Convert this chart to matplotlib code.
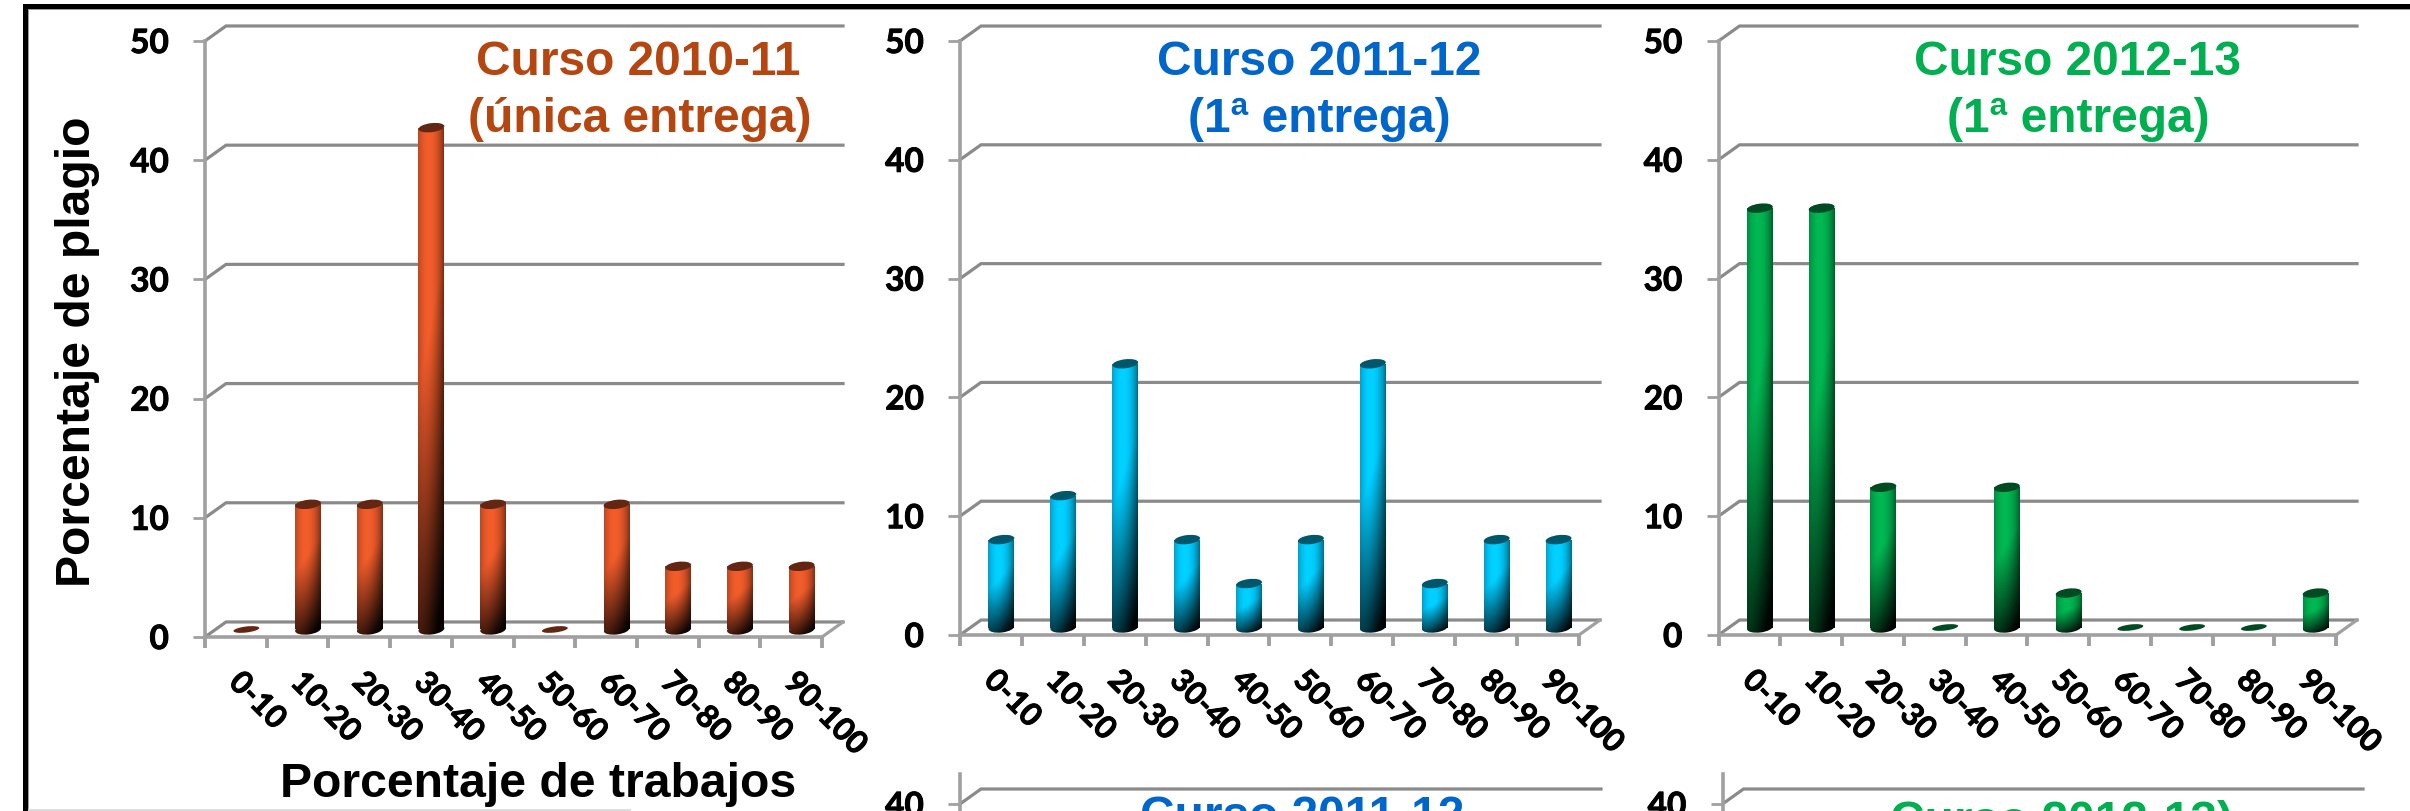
#!/usr/bin/env python3
import matplotlib
matplotlib.use("Agg")
import matplotlib.pyplot as plt
import matplotlib.patheffects as pe
import numpy as np
from matplotlib.colors import to_rgb
from matplotlib.patches import Ellipse, Rectangle
from matplotlib.transforms import ScaledTranslation

W, H = 2410, 811
DPI = 100

categories = ["0-10", "10-20", "20-30", "30-40", "40-50", "50-60", "60-70", "70-80", "80-90", "90-100"]
values_2010 = [0, 10.5, 10.5, 42.1, 10.5, 0, 10.5, 5.3, 5.3, 5.3]
values_2011 = [7.4, 11.1, 22.2, 7.4, 3.7, 7.4, 22.2, 3.7, 7.4, 7.4]
values_2012 = [35.3, 35.3, 11.8, 0, 11.8, 2.9, 0, 0, 0, 2.9]
yticks_top = [0, 10, 20, 30, 40, 50]
yticks_bottom = [40]

GRID = "#8a8a8a"
AXIS = "#a0a0a0"
PX_PER_UNIT = 11.9
DEPTH_X, DEPTH_Y = 21, 15
BAR_W = 26

plt.rcParams["font.family"] = ["Lato", "DejaVu Sans"]
fig = plt.figure(figsize=(W / DPI, H / DPI), dpi=DPI)
heavy = [pe.withStroke(linewidth=0.7, foreground="black")]


def fx(px):
    return px / W


def fy(py):
    return 1 - py / H


def shade_image(color, n=60):
    # cylinder shading: bright left of centre, dark at the right edge and foot
    u = np.linspace(0, 1, 40)
    t = np.linspace(1, 0, n)
    uu, tt = np.meshgrid(u, t)
    across = np.clip(1 - ((uu - 0.42) / 0.66) ** 2, 0, 1) ** 0.8
    along = np.clip((tt + 0.30 * (0.45 - uu) + 0.08) / 0.68, 0, 1)
    s = (0.30 + 0.70 * across) * along ** 0.95 + 0.03
    rgb = np.array(to_rgb(color))
    return np.clip(s[..., None] * rgb, 0, 1)


def panel(x0, x1, y_top, y_zero, ymax, yticks, values=None, color=None):
    ax = fig.add_axes([fx(x0), fy(y_zero), fx(x1 - x0), (y_zero - y_top) / H])
    ax.set_xlim(0, 10)
    ax.set_ylim(0, ymax)
    ax.patch.set_alpha(0)
    slot = (x1 - x0) / 10
    dx = DEPTH_X / slot
    dy = DEPTH_Y / PX_PER_UNIT

    for v in yticks:
        ax.plot([0, dx, 10 + dx], [v, v + dy, v + dy], color=GRID, lw=2.3, clip_on=False,
                solid_joinstyle="miter", zorder=1)
    ax.plot([10, 10 + dx], [0, dy], color=AXIS, lw=2.3, clip_on=False, zorder=1)

    for s in ("top", "right"):
        ax.spines[s].set_visible(False)
    for s in ("left", "bottom"):
        ax.spines[s].set_color(AXIS)
        ax.spines[s].set_linewidth(2.6)
    ax.set_yticks(yticks)
    ax.tick_params(axis="y", length=9, width=2, color=AXIS, pad=17, labelsize=24)
    for lab in ax.get_yticklabels():
        lab.set_fontweight("bold")
        lab.set_path_effects(heavy)

    ax.set_xticks(range(11))
    ax.set_xticklabels([])
    ax.tick_params(axis="x", which="major", length=8, width=2.8, color=AXIS)

    if values is None:
        # second row: the image edge cuts it before its bars and category labels
        return ax

    ax.set_xticks(np.arange(10) + 0.5 + 8 / slot, minor=True)
    ax.set_xticklabels(categories, minor=True, rotation=-45, ha="left", va="top",
                       rotation_mode="anchor", fontsize=22.5, fontweight="bold",
                       path_effects=heavy)
    ax.tick_params(axis="x", which="minor", length=0, pad=22)

    centers = np.arange(10) + 0.5 + dx / 2
    base = dy / 2
    width = BAR_W / slot
    img = shade_image(color)
    cap = np.clip(np.array(to_rgb(color)) * 0.42, 0, 1)
    bars = ax.bar(centers, values, width, bottom=base, color=to_rgb(color), linewidth=0, zorder=3)
    for xc, val, bar in zip(centers, values, bars):
        offset = ScaledTranslation(xc, base + val, ax.transData)
        top = Ellipse((0, 0), BAR_W / DPI, (6 if val == 0 else 9) / DPI, angle=7,
                      transform=fig.dpi_scale_trans + offset, facecolor=cap, linewidth=0,
                      zorder=5, clip_on=False)
        ax.add_patch(top)
        if val == 0:
            bar.set_visible(False)
            continue
        foot = Ellipse((0, 0), BAR_W / DPI, 10 / DPI, angle=7,
                       transform=fig.dpi_scale_trans + ScaledTranslation(xc, base, ax.transData),
                       facecolor="none", linewidth=0)
        ax.add_patch(foot)
        extent = [xc - width / 2, xc + width / 2, base - 6 / PX_PER_UNIT, base + val]
        for clip in (bar, foot):
            im = ax.imshow(img, extent=extent, aspect="auto", interpolation="bilinear", zorder=4)
            im.set_clip_path(clip)
    ax.set_xlim(0, 10)
    ax.set_ylim(0, ymax)
    return ax


panel(205, 822, 41, 637, 50, yticks_top, values_2010, "#EC5A2A")
panel(960, 1579, 41, 635, 50, yticks_top, values_2011, "#00CCFF")
panel(1718.5, 2336, 41, 635, 50, yticks_top, values_2012, "#00B350")

# second row is cut off by the image edge, only its top shows
row2_zero = 804 + 40 * PX_PER_UNIT
row2_max = (row2_zero - 774) / PX_PER_UNIT
panel(960, 1580, 774, row2_zero, row2_max, yticks_bottom)
panel(1722.5, 2342, 774, row2_zero, row2_max, yticks_bottom)

TITLE = dict(family=["Liberation Sans"], fontweight="bold", fontsize=34.5, ha="center", va="baseline")
BROWN, BLUE, GREEN = "#B5460F", "#0066CC", "#00B050"
fig.text(fx(638), fy(75), "Curso 2010-11", color=BROWN, **TITLE)
fig.text(fx(640), fy(132), "(única entrega)", color=BROWN, **TITLE)
fig.text(fx(1319), fy(75), "Curso 2011-12", color=BLUE, **TITLE)
fig.text(fx(1319), fy(132), "(1ª entrega)", color=BLUE, **TITLE)
fig.text(fx(2078), fy(75), "Curso 2012-13", color=GREEN, **TITLE)
fig.text(fx(2078), fy(132), "(1ª entrega)", color=GREEN, **TITLE)
fig.text(fx(1302), fy(830), "Curso 2011-12", color=BLUE, **TITLE)
fig.text(fx(2062), fy(835), "Curso 2012-13)", color=GREEN, **TITLE)

LABEL = dict(family=["Liberation Sans"], fontweight="bold", fontsize=34.7, color="black")
fig.text(fx(538), fy(797), "Porcentaje de trabajos", ha="center", va="baseline", **LABEL)
fig.text(fx(78), fy(352), "Porcentaje de plagio", ha="center", va="center", rotation=90, **LABEL)

# slide frame
for x, y, w, h, c in [(23, 4, W - 23, 5, "black"), (23, 4, 5, H - 4, "black"),
                      (28, 9, W - 28, 1, "#9a9a9a"), (28, 9, 1, H - 9, "#9a9a9a"),
                      (28, 809, 603, 2, "#dddddd")]:
    fig.add_artist(Rectangle((fx(x), fy(y + h)), w / W, h / H, transform=fig.transFigure,
                             facecolor=c, linewidth=0))

fig.savefig("out.png", dpi=DPI, facecolor="white")
